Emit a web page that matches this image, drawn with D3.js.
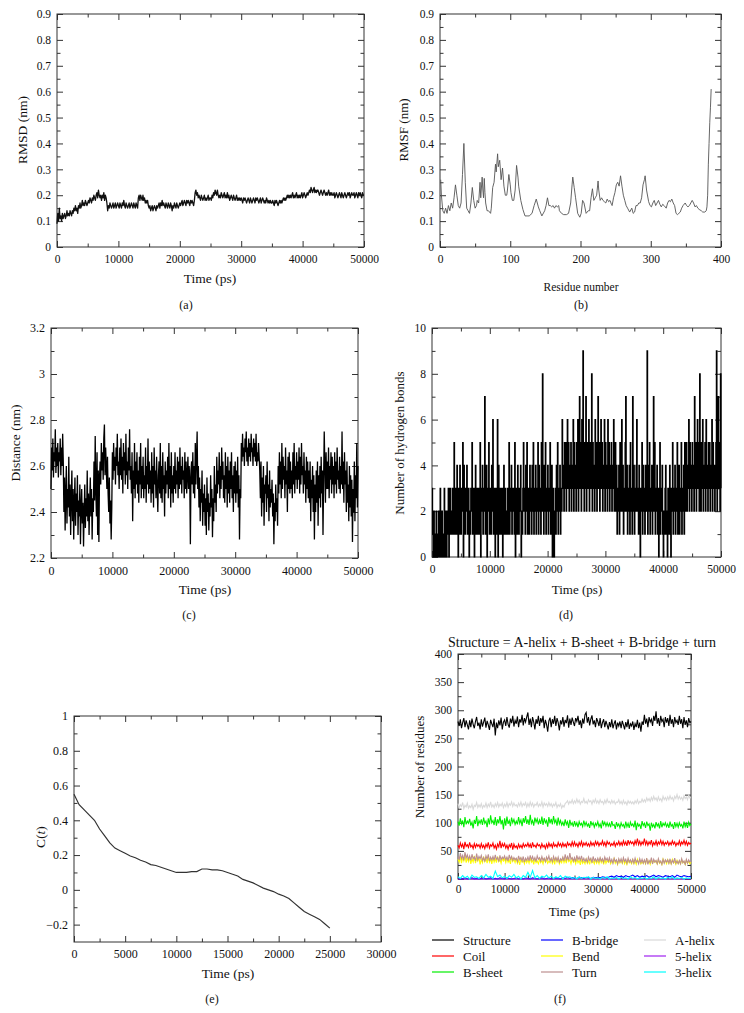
<!DOCTYPE html>
<html><head><meta charset="utf-8">
<script src="https://cdn.jsdelivr.net/npm/d3@7"></script>
<style>body{margin:0;background:#fff}</style>
</head><body><svg id="c" width="744" height="1013"></svg>
<script>
// ---------------- DATA ----------------
// (a) RMSD, sampled every 125 ps from 0 to 50000
const rmsdStep = 125;
const rmsd = [
0.09,0.13,0.10,0.15,0.11,0.12,0.10,0.13,0.11,0.12,0.13,0.11,0.12,0.14,0.12,0.13,0.12,0.14,0.13,0.12,
0.14,0.13,0.15,0.14,0.16,0.14,0.15,0.13,0.16,0.15,0.17,0.15,0.16,0.18,0.16,0.17,0.16,0.18,0.17,0.16,
0.17,0.18,0.17,0.19,0.18,0.17,0.19,0.18,0.20,0.19,0.18,0.20,0.21,0.19,0.22,0.20,0.19,0.20,0.18,0.20,
0.19,0.21,0.18,0.20,0.19,0.17,0.14,0.16,0.15,0.17,0.16,0.15,0.16,0.17,0.15,0.16,0.17,0.15,0.16,0.17,
0.16,0.15,0.17,0.16,0.15,0.17,0.16,0.18,0.16,0.15,0.17,0.16,0.15,0.16,0.17,0.15,0.16,0.17,0.16,0.15,
0.17,0.16,0.15,0.17,0.16,0.15,0.19,0.20,0.18,0.20,0.19,0.18,0.20,0.18,0.19,0.17,0.18,0.17,0.18,0.16,
0.15,0.16,0.14,0.15,0.16,0.14,0.15,0.16,0.15,0.14,0.16,0.15,0.16,0.17,0.15,0.17,0.16,0.18,0.16,0.17,
0.16,0.15,0.17,0.16,0.15,0.17,0.16,0.15,0.17,0.16,0.14,0.16,0.15,0.17,0.16,0.15,0.17,0.16,0.15,0.16,
0.17,0.16,0.17,0.18,0.16,0.17,0.18,0.17,0.16,0.18,0.17,0.18,0.17,0.16,0.18,0.17,0.18,0.17,0.16,0.18,
0.21,0.22,0.20,0.21,0.19,0.20,0.19,0.18,0.20,0.19,0.18,0.19,0.20,0.18,0.19,0.18,0.19,0.20,0.18,0.19,
0.19,0.18,0.20,0.19,0.21,0.20,0.22,0.21,0.20,0.22,0.20,0.19,0.20,0.19,0.21,0.20,0.19,0.20,0.21,0.19,
0.20,0.19,0.21,0.19,0.20,0.18,0.19,0.20,0.19,0.18,0.20,0.19,0.18,0.19,0.20,0.18,0.19,0.18,0.19,0.18,
0.19,0.18,0.17,0.19,0.18,0.19,0.18,0.17,0.18,0.19,0.18,0.17,0.19,0.18,0.17,0.18,0.19,0.18,0.17,0.19,
0.18,0.19,0.18,0.17,0.18,0.19,0.17,0.18,0.19,0.18,0.17,0.18,0.17,0.19,0.18,0.17,0.18,0.17,0.18,0.17,
0.17,0.18,0.17,0.16,0.18,0.17,0.18,0.17,0.16,0.17,0.18,0.17,0.18,0.17,0.18,0.19,0.18,0.19,0.18,0.19,
0.20,0.19,0.20,0.19,0.20,0.19,0.20,0.21,0.19,0.20,0.19,0.20,0.21,0.19,0.20,0.19,0.20,0.19,0.20,0.21,
0.19,0.20,0.21,0.20,0.19,0.20,0.21,0.20,0.21,0.22,0.21,0.23,0.22,0.21,0.22,0.23,0.21,0.22,0.21,0.22,
0.22,0.21,0.20,0.21,0.22,0.21,0.20,0.21,0.22,0.21,0.20,0.21,0.20,0.21,0.22,0.20,0.21,0.20,0.21,0.20,
0.20,0.21,0.19,0.20,0.21,0.20,0.19,0.20,0.21,0.20,0.19,0.21,0.20,0.19,0.20,0.21,0.20,0.19,0.20,0.21,
0.20,0.21,0.19,0.20,0.21,0.20,0.20,0.21,0.19,0.20,0.21,0.20,0.19,0.21,0.20,0.21,0.20,0.19,0.21,0.20,
0.20];

// (b) RMSF per residue
const rmsfResidue = [1,2,3,4,6,8,10,12,14,16,18,20,22,24,26,28,30,32,34,36,38,40,42,44,46,48,50,52,53,55,57,58,60,61,62,63,64,65,67,69,72,73,75,77,79,80,82,83,85,87,89,91,93,95,96,98,100,101,103,105,107,109,111,112,115,118,121,124,127,131,134,137,140,142,145,149,151,153,155,157,159,161,163,165,167,169,170,173,176,180,183,186,188,189,191,193,196,199,201,203,205,208,211,213,215,217,219,221,223,225,226,228,230,232,234,236,238,240,242,244,245,247,249,251,253,255,257,259,261,263,265,267,270,273,275,277,279,281,283,285,287,289,291,292,294,297,299,301,303,305,307,309,311,313,315,317,319,322,324,326,328,330,332,334,336,338,340,342,344,346,349,351,353,355,357,359,361,363,365,367,369,372,374,377,379,380,381,382,383,384,385,386];
const rmsfValue = [0.26,0.20,0.17,0.14,0.13,0.15,0.13,0.16,0.14,0.17,0.15,0.19,0.24,0.20,0.16,0.15,0.17,0.28,0.40,0.25,0.15,0.14,0.13,0.17,0.23,0.18,0.15,0.16,0.18,0.17,0.25,0.19,0.27,0.22,0.19,0.265,0.21,0.17,0.14,0.14,0.13,0.15,0.23,0.25,0.32,0.29,0.36,0.31,0.335,0.26,0.305,0.235,0.20,0.20,0.22,0.28,0.24,0.21,0.18,0.18,0.22,0.315,0.27,0.235,0.18,0.145,0.12,0.12,0.12,0.13,0.16,0.185,0.155,0.14,0.12,0.14,0.16,0.19,0.16,0.16,0.155,0.16,0.15,0.16,0.155,0.16,0.14,0.13,0.125,0.125,0.13,0.17,0.24,0.27,0.23,0.19,0.13,0.115,0.13,0.18,0.17,0.13,0.14,0.14,0.19,0.225,0.18,0.19,0.20,0.255,0.22,0.18,0.19,0.18,0.175,0.17,0.185,0.175,0.18,0.165,0.16,0.19,0.21,0.24,0.25,0.235,0.275,0.235,0.20,0.18,0.16,0.15,0.135,0.15,0.13,0.135,0.16,0.16,0.17,0.17,0.19,0.24,0.26,0.275,0.22,0.175,0.16,0.155,0.17,0.18,0.16,0.17,0.18,0.165,0.155,0.165,0.16,0.15,0.17,0.18,0.175,0.185,0.17,0.16,0.13,0.125,0.13,0.135,0.15,0.16,0.17,0.16,0.155,0.16,0.17,0.18,0.17,0.155,0.16,0.15,0.145,0.14,0.135,0.135,0.14,0.155,0.20,0.32,0.40,0.48,0.54,0.61];

// (c) Distance, every 100 ps
const distStep = 100;
const distance = [
2.50,2.68,2.58,2.72,2.55,2.66,2.62,2.76,2.57,2.68,
2.60,2.70,2.55,2.66,2.62,2.72,2.56,2.68,2.60,2.74,
2.62,2.40,2.55,2.32,2.48,2.60,2.35,2.50,2.42,2.64,
2.38,2.52,2.30,2.46,2.58,2.36,2.50,2.28,2.44,2.55,
2.34,2.48,2.40,2.56,2.30,2.45,2.38,2.52,2.26,2.42,
2.50,2.35,2.44,2.25,2.40,2.52,2.33,2.46,2.38,2.58,
2.36,2.48,2.30,2.44,2.55,2.38,2.50,2.28,2.46,2.40,
2.62,2.45,2.73,2.50,2.38,2.66,2.30,2.58,2.27,2.55,
2.62,2.52,2.70,2.58,2.66,2.54,2.72,2.78,2.56,2.68,
2.60,2.50,2.64,2.48,2.40,2.55,2.35,2.45,2.28,2.42,
2.66,2.54,2.70,2.58,2.64,2.52,2.68,2.60,2.74,2.56,
2.62,2.50,2.68,2.56,2.72,2.54,2.64,2.48,2.70,2.58,
2.66,2.52,2.74,2.56,2.62,2.50,2.68,2.58,2.76,2.54,
2.60,2.48,2.66,2.36,2.58,2.50,2.70,2.46,2.62,2.52,
2.66,2.48,2.58,2.44,2.64,2.52,2.70,2.46,2.60,2.50,
2.64,2.46,2.56,2.50,2.68,2.44,2.60,2.52,2.72,2.48,
2.62,2.50,2.58,2.44,2.66,2.48,2.60,2.42,2.68,2.52,
2.58,2.46,2.64,2.50,2.40,2.56,2.62,2.48,2.70,2.46,
2.60,2.44,2.66,2.50,2.56,2.38,2.62,2.48,2.58,2.52,
2.64,2.46,2.70,2.50,2.60,2.42,2.66,2.48,2.56,2.44,
2.60,2.50,2.66,2.48,2.58,2.52,2.64,2.46,2.62,2.50,
2.68,2.52,2.60,2.48,2.64,2.54,2.58,2.46,2.66,2.50,
2.62,2.48,2.56,2.64,2.50,2.60,2.54,2.26,2.58,2.62,
2.52,2.66,2.48,2.60,2.46,2.70,2.52,2.64,2.75,2.50,
2.60,2.42,2.55,2.36,2.50,2.44,2.58,2.34,2.48,2.40,
2.52,2.34,2.46,2.30,2.55,2.40,2.48,2.32,2.44,2.38,
2.56,2.42,2.50,2.29,2.46,2.36,2.60,2.44,2.52,2.40,
2.64,2.48,2.58,2.52,2.66,2.46,2.60,2.50,2.68,2.54,
2.62,2.46,2.56,2.44,2.66,2.50,2.60,2.42,2.64,2.48,
2.58,2.44,2.62,2.50,2.66,2.46,2.56,2.40,2.60,2.48,
2.62,2.44,2.58,2.48,2.64,2.42,2.56,2.28,2.50,2.46,
2.70,2.62,2.74,2.64,2.68,2.60,2.72,2.66,2.75,2.62,
2.68,2.60,2.72,2.64,2.70,2.62,2.74,2.66,2.68,2.60,
2.72,2.64,2.70,2.62,2.74,2.60,2.66,2.62,2.70,2.64,
2.58,2.46,2.62,2.38,2.55,2.44,2.60,2.34,2.52,2.48,
2.56,2.40,2.62,2.46,2.52,2.36,2.58,2.42,2.50,2.44,
2.54,2.38,2.48,2.26,2.44,2.36,2.52,2.40,2.46,2.34,
2.60,2.48,2.66,2.52,2.62,2.46,2.70,2.50,2.64,2.54,
2.60,2.46,2.68,2.52,2.58,2.40,2.64,2.50,2.66,2.48,
2.62,2.50,2.58,2.46,2.66,2.52,2.70,2.48,2.60,2.54,
2.66,2.50,2.62,2.54,2.68,2.48,2.64,2.52,2.70,2.56,
2.60,2.48,2.66,2.52,2.58,2.44,2.64,2.50,2.62,2.46,
2.58,2.44,2.62,2.36,2.54,2.46,2.60,2.40,2.56,2.28,
2.52,2.40,2.58,2.44,2.62,2.34,2.56,2.46,2.60,2.42,
2.64,2.48,2.58,2.30,2.54,2.75,2.60,2.44,2.66,2.50,
2.62,2.50,2.68,2.46,2.60,2.54,2.66,2.48,2.64,2.52,
2.60,2.46,2.66,2.52,2.62,2.48,2.68,2.54,2.58,2.50,
2.64,2.48,2.60,2.52,2.75,2.50,2.62,2.44,2.66,2.52,
2.58,2.40,2.62,2.44,2.52,2.36,2.60,2.42,2.56,2.38,
2.54,2.27,2.50,2.40,2.62,2.36,2.56,2.46,2.70,2.42,
2.60];

// (d) Hydrogen bonds, every 100 ps
const hbStep = 100;
const hbonds = [
3,1,0,2,1,0,1,2,0,1, 0,2,1,0,3,1,0,2,1,0, 1,3,0,2,1,0,2,1,3,0, 1,3,2,1,2,3,1,2,5,1,
2,3,1,4,2,0,3,1,4,2, 1,3,2,5,0,4,2,1,3,2, 4,1,2,3,0,2,1,3,2,5, 1,2,3,0,2,4,1,3,2,1,
3,1,2,5,0,3,2,4,1,2, 3,7,1,2,4,0,3,2,5,1, 2,3,1,4,2,6,1,3,2,0, 3,1,2,6,0,4,2,1,3,2,
1,3,0,2,4,1,3,2,1,2, 3,1,2,5,1,3,2,4,1,2, 3,2,1,5,0,2,3,1,4,2, 1,3,2,4,0,2,1,3,5,2,
3,1,4,2,5,1,3,2,1,4, 2,3,1,4,2,5,1,3,2,4, 1,3,2,5,1,4,2,3,1,5, 2,8,3,1,4,2,5,1,3,2,
4,1,3,2,5,1,2,4,0,3, 1,0,2,3,1,4,2,5,1,3, 2,4,1,3,2,6,3,4,2,5, 3,5,2,4,6,3,5,2,4,3,
5,2,4,3,6,2,5,3,4,2, 5,3,6,2,4,7,3,5,2,6, 3,9,4,2,5,3,7,2,4,5, 3,6,2,5,4,3,8,2,5,3,
4,2,6,3,5,2,4,7,3,5, 2,4,6,3,5,2,4,3,6,2, 5,3,4,2,6,3,5,2,4,3, 5,2,4,3,6,2,3,5,2,4,
1,3,2,4,1,5,2,3,6,2, 4,1,3,2,5,7,2,4,1,3, 2,4,1,5,2,3,1,7,2,4, 1,3,2,4,6,2,3,1,4,2,
0,3,2,5,1,4,2,3,1,4, 2,3,9,1,4,2,5,1,3,2, 4,1,3,7,2,5,1,3,2,4, 1,3,0,2,5,1,3,2,4,1,
0,2,1,3,4,1,2,0,3,1, 2,4,1,0,3,2,5,1,3,2, 4,1,3,2,5,1,2,4,1,3, 2,5,1,3,2,4,1,5,2,3,
5,2,4,3,6,2,5,3,4,2, 5,3,4,2,7,3,5,2,4,6, 3,5,2,8,4,2,5,3,6,2, 4,3,5,2,6,3,4,2,5,3,
5,2,4,3,6,2,5,3,4,2, 3,5,9,2,4,7,3,5,2,8,
3];

// (e) C(t), every 500 ps from 0 to 25000
const ctStep = 500;
const ct = [0.55,0.49,0.46,0.43,0.40,0.35,0.31,0.27,0.24,0.225,0.21,0.195,0.185,0.17,0.16,0.145,0.14,0.13,0.12,0.11,0.10,0.10,0.10,0.105,0.105,0.12,0.12,0.115,0.115,0.11,0.10,0.09,0.08,0.06,0.05,0.04,0.025,0.01,0.0,-0.01,-0.025,-0.035,-0.05,-0.075,-0.10,-0.125,-0.14,-0.155,-0.17,-0.195,-0.22];

// (f) Secondary structure (main series every 250 ps, minor ones every 500 ps)
const ssNames = ["Structure","Coil","B-sheet","B-bridge","Bend","Turn","A-helix","5-helix","3-helix"];
const ssColors = ["#000000","#ff0000","#00ee00","#0000ff","#ffff00","#bc8f8f","#d9d9d9","#a020f0","#00ffff"];
const ssSteps = [250,250,250,500,250,250,250,500,500];
const ssStructure = [
280,272,284,268,278,286,270,282,274,266, 282,270,285,275,268,280,288,272,278,266,
284,271,279,287,269,281,274,265,283,276, 270,285,255,278,268,282,273,287,266,279,
283,272,288,275,269,285,277,290,271,282, 276,289,270,284,278,292,273,286,279,288,
296,274,285,270,288,279,266,284,276,290, 272,286,278,290,268,283,275,262,281,287,
270,284,276,290,272,286,278,264,282,275, 288,271,283,277,291,269,285,274,287,279,
272,286,280,290,274,282,268,285,276,292, 296,278,288,273,284,291,275,282,270,286,
280,272,286,268,278,284,270,281,274,266, 279,270,284,268,276,282,266,278,272,280,
268,281,274,266,279,270,284,267,276,272, 280,265,276,270,283,268,278,262,280,274,
292,276,285,270,288,279,284,272,290,281, 298,276,286,272,290,280,284,270,288,278,
286,272,292,276,284,270,288,278,282,274, 290,276,284,268,288,274,282,270,286,278,
280];
const ssCoil = [
60,55,64,57,62,53,66,58,61,56, 65,57,60,54,63,56,62,58,61,55,
63,56,60,54,62,57,65,55,61,58, 64,55,60,53,62,57,68,55,63,58,
63,55,60,53,61,57,64,52,62,56, 59,54,62,56,60,55,63,57,61,58,
64,57,62,55,65,58,60,56,63,59, 61,55,63,57,60,54,62,56,64,58,
62,56,64,58,61,57,65,59,63,57, 64,58,62,57,65,60,63,58,66,59,
66,59,63,57,65,60,67,58,64,60, 65,59,63,58,66,60,64,59,67,61,
66,59,64,61,68,60,65,58,67,62, 65,59,63,60,66,58,64,61,67,60,
65,60,68,61,66,59,69,62,67,63, 66,60,68,62,72,61,67,60,66,62,
72,61,67,60,66,62,69,59,65,61, 68,60,66,62,69,61,67,60,65,62,
67,60,65,61,68,62,66,59,64,61, 68,60,66,62,69,61,67,60,65,62,
64];
const ssSheet = [
102,95,108,98,104,92,110,97,103,99, 107,95,101,90,105,98,112,94,104,99,
106,96,109,99,103,92,108,97,113,100, 104,96,110,95,106,99,112,97,105,88,
108,95,111,98,104,94,109,100,106,97, 103,97,110,99,105,94,108,100,112,98,
106,96,114,99,104,95,109,101,107,97, 105,98,111,96,108,100,104,93,110,99,
107,97,112,100,105,95,109,98,104,96, 101,94,106,97,102,91,105,96,100,93,
103,95,100,92,102,96,99,93,104,95, 101,94,98,91,103,96,100,92,99,95,
102,93,98,90,104,96,101,94,100,94, 99,92,103,95,97,89,101,94,98,91,
100,94,97,90,102,93,99,91,101,95, 98,92,104,87,100,94,97,89,103,95,
99,91,102,95,98,86,100,93,97,90, 101,94,98,90,103,92,99,95,100,93,
98,91,102,94,97,89,101,93,99,92, 100,94,97,90,102,93,99,91,101,95,
98];
const ssBridge = [2,0,1,2,0,1,2,0,1,0,1,2,0,1,2,0,1,0,2,1,0,2,1,0,1,2,0,1,0,2,1,0,2,1,0,1,2,0,1,2,0,1,2,1,0,2,1,3,1,2,2,1,3,2,1,3,2,1,3,2,3,2,4,3,2,4,5,3,6,4,5,3,6,4,5,7,4,6,3,5,4,6,3,5,7,4,6,5,3,6,5,4,6,3,7,5,4,6,5,4,5];
const ssBend = [
36,30,40,28,38,32,42,29,37,31, 39,27,36,30,41,28,37,32,38,26,
35,29,40,31,37,28,39,30,36,27, 38,30,36,29,40,31,35,28,37,32,
36,29,38,30,34,27,39,31,35,29, 37,28,34,25,36,30,33,27,35,29,
34,28,37,30,33,26,36,29,32,27, 35,29,33,27,37,30,34,28,32,29,
36,28,34,26,38,30,35,27,33,29, 37,29,35,28,39,31,34,27,36,30,
34,27,36,29,33,25,35,28,32,27, 35,28,33,26,36,29,32,27,34,28,
33,27,36,29,34,26,35,28,33,30, 34,27,32,29,36,28,33,26,34,29,
33,28,35,27,32,26,34,29,31,27, 34,28,32,26,35,29,33,27,31,28,
33,27,35,29,32,26,34,28,33,30, 32,27,34,28,31,26,35,29,33,27,
34,28,32,27,35,29,31,26,33,28, 32,27,34,29,31,26,33,28,32,27,
30];
const ssTurn = [
40,34,46,36,42,33,48,37,43,35, 41,33,44,36,39,32,45,34,40,36,
42,33,38,31,41,35,44,32,39,34, 40,33,43,35,38,31,42,34,39,36,
41,34,39,32,43,35,40,33,38,34, 37,31,41,34,38,32,40,30,37,33,
39,32,42,34,40,33,38,31,41,35, 38,32,40,33,37,31,39,34,41,32,
37,31,40,33,38,32,39,30,36,33, 39,32,44,34,40,33,46,35,38,32,
38,31,42,34,39,33,41,32,37,31, 36,30,39,33,37,29,40,32,36,31,
37,31,38,32,36,30,39,33,37,31, 38,30,35,28,37,31,34,27,36,30,
36,29,38,31,35,28,37,30,34,29, 35,28,37,30,33,27,36,29,35,28,
34,28,37,26,33,29,38,27,35,30, 33,27,36,29,32,26,35,28,34,30,
34,28,36,27,33,29,37,28,32,27, 33,27,36,29,32,26,35,28,34,30,
32];
const ssAHelix = [
134,127,132,129,136,125,131,128,135,126, 130,127,133,124,131,129,136,127,132,128,
134,126,131,128,135,127,133,129,137,128, 132,127,134,129,136,128,133,130,135,127,
133,129,136,128,134,131,137,129,135,130, 132,128,135,130,137,129,134,131,136,128,
134,129,137,130,135,128,133,131,136,129, 133,130,137,128,135,131,134,129,136,130,
134,128,133,130,136,127,132,129,134,126, 131,128,134,136,139,133,138,135,141,134,
139,135,142,136,140,133,138,136,143,135, 138,134,141,137,139,133,140,136,142,135,
139,134,141,136,138,133,140,135,142,136, 138,134,140,135,139,133,137,136,141,134,
138,133,140,134,137,132,139,135,138,134, 137,133,139,135,141,134,138,136,142,137,
141,137,144,139,143,138,145,140,147,141, 144,139,146,140,143,138,147,141,145,140,
146,141,148,142,145,139,147,143,150,142, 147,142,145,140,148,143,146,141,149,144,
145];
const ss5Helix = [0,0,0,0,0,0,0,0,0,0,0,0,0,0,0,0,0,0,0,0,0,0,0,0,0,0,0,0,0,0,0,0,0,0,0,0,0,0,0,0,0,0,0,0,0,0,0,0,0,0,0,0,0,0,0,0,0,0,0,0,0,0,0,0,0,0,0,0,0,0,0,0,0,0,0,0,0,0,0,0,0,0,0,0,0,0,0,0,0,0,0,0,0,0,0,0,0,0,0,0,0];
const ss3Helix = [4,1,6,2,5,0,7,3,4,1,6,2,8,3,5,1,14,4,7,2,5,1,6,3,8,2,5,0,6,3,12,3,15,2,6,1,5,3,7,2,5,1,4,2,6,0,5,3,4,1,3,0,4,1,3,2,4,0,3,1,2,0,3,1,4,0,2,1,3,0,3,1,2,0,4,1,3,0,2,1,3,0,2,1,4,0,3,1,2,0,3,1,4,0,2,1,3,0,2,1,2];
const ssSeries = [ssStructure,ssCoil,ssSheet,ssBridge,ssBend,ssTurn,ssAHelix,ss5Helix,ss3Helix];

// tick values / labels
const timeTicks50k = [0,10000,20000,30000,40000,50000];
const timeMinor50k = [5000,15000,25000,35000,45000];
const rmsTicks = [0,0.1,0.2,0.3,0.4,0.5,0.6,0.7,0.8,0.9];
const rmsMinor = [0.05,0.15,0.25,0.35,0.45,0.55,0.65,0.75,0.85];
const resTicks = [0,100,200,300,400];
const resMinor = [50,150,250,350];
const distTicks = [2.2,2.4,2.6,2.8,3,3.2];
const distMinor = [2.3,2.5,2.7,2.9,3.1];
const hbTicks = [0,2,4,6,8,10];
const hbMinor = [1,3,5,7,9];
const ctXTicks = [0,5000,10000,15000,20000,25000,30000];
const ctXMinor = [2500,7500,12500,17500,22500,27500];
const ctYTicks = [-0.2,0,0.2,0.4,0.6,0.8,1];
const ctYLabels = ["\u22120.2","0","0.2","0.4","0.6","0.8","1"];
const ctYMinor = [-0.1,0.1,0.3,0.5,0.7,0.9];
const resiTicks = [0,50,100,150,200,250,300,350,400];
const resiMinor = [25,75,125,175,225,275,325,375];

// ---------------- DRAW ----------------
const svg = d3.select('#c');
svg.append('rect').attr('width',744).attr('height',1013).attr('fill','#fff');
const SERIF = '"Liberation Serif","Times New Roman",Times,serif';
const MAJ = 6, MIN = 3.5;

function panel(o){
  const x = d3.scaleLinear().domain(o.xDomain).range([o.left,o.right]);
  const y = d3.scaleLinear().domain(o.yDomain).range([o.bottom,o.top]);
  const g = svg.append('g');
  const none = () => '';
  const fmtX = o.xLabels ? (d,i)=>o.xLabels[i] : d=>String(d);
  const fmtY = o.yLabels ? (d,i)=>o.yLabels[i] : d=>String(d);
  const axes = [
    [d3.axisBottom(x).tickValues(o.xMajor).tickSize(-MAJ).tickPadding(o.xPad).tickFormat(fmtX), `translate(0,${o.bottom})`],
    [d3.axisBottom(x).tickValues(o.xMinor).tickSize(-MIN).tickFormat(none), `translate(0,${o.bottom})`],
    [d3.axisTop(x).tickValues(o.xMajor).tickSize(-MAJ).tickFormat(none), `translate(0,${o.top})`],
    [d3.axisTop(x).tickValues(o.xMinor).tickSize(-MIN).tickFormat(none), `translate(0,${o.top})`],
    [d3.axisLeft(y).tickValues(o.yMajor).tickSize(-MAJ).tickPadding(o.yPad).tickFormat(fmtY), `translate(${o.left},0)`],
    [d3.axisLeft(y).tickValues(o.yMinor).tickSize(-MIN).tickFormat(none), `translate(${o.left},0)`],
    [d3.axisRight(y).tickValues(o.yMajor).tickSize(-MAJ).tickFormat(none), `translate(${o.right},0)`],
    [d3.axisRight(y).tickValues(o.yMinor).tickSize(-MIN).tickFormat(none), `translate(${o.right},0)`]
  ];
  axes.forEach(([ax,tr])=>{
    const a = g.append('g').attr('transform',tr).call(ax);
    a.select('.domain').remove();
    a.selectAll('line').attr('stroke','#333').attr('stroke-width',1);
    a.selectAll('text').attr('font-family',SERIF).attr('font-size',o.tickFont).attr('fill','#111');
  });
  g.append('rect').attr('x',o.left).attr('y',o.top)
    .attr('width',o.right-o.left).attr('height',o.bottom-o.top)
    .attr('fill','none').attr('stroke','#333').attr('stroke-width',1);
  g.append('text').attr('x',o.xTitle[1]).attr('y',o.xTitle[2])
    .attr('text-anchor','middle').attr('dominant-baseline','central')
    .attr('font-family',SERIF).attr('font-size',o.xTitleFont||o.titleFont).attr('fill','#111').text(o.xTitle[0]);
  const yt = g.append('text').attr('transform',`translate(${o.yTitle[1]},${o.yTitle[2]}) rotate(-90)`)
    .attr('text-anchor','middle').attr('dominant-baseline','central')
    .attr('font-family',SERIF).attr('font-size',o.titleFont).attr('fill','#111');
  if (o.yTitleItalic){
    yt.append('tspan').text('C(');
    yt.append('tspan').attr('font-style','italic').text('t');
    yt.append('tspan').text(')');
  } else yt.text(o.yTitle[0]);
  g.append('text').attr('x',o.caption[1]).attr('y',o.caption[2])
    .attr('text-anchor','middle').attr('dominant-baseline','central')
    .attr('font-family',SERIF).attr('font-size',12).attr('fill','#111').text(o.caption[0]);
  return {x,y,g};
}

// (a)
{
  const p = panel({left:57,right:364,top:14,bottom:247,xDomain:[0,50000],yDomain:[0,0.9],
    xMajor:timeTicks50k,xMinor:timeMinor50k,yMajor:rmsTicks,yMinor:rmsMinor,xPad:8,yPad:6,
    tickFont:11.5,titleFont:13.5,xTitle:["Time (ps)",210,278],yTitle:["RMSD (nm)",22,130],caption:["(a)",186,305]});
  p.g.append('path').datum(rmsd).attr('fill','none').attr('stroke','#111').attr('stroke-width',1.3)
    .attr('stroke-linejoin','round')
    .attr('d',d3.line().x((d,i)=>p.x(i*rmsdStep)).y(d=>p.y(d)));
}
// (b)
{
  const p = panel({left:440,right:721,top:14,bottom:247,xDomain:[0,400],yDomain:[0,0.9],
    xMajor:resTicks,xMinor:resMinor,yMajor:rmsTicks,yMinor:rmsMinor,xPad:8,yPad:6,
    tickFont:11.5,titleFont:13,xTitleFont:11.5,xTitle:["Residue number",581,287],yTitle:["RMSF (nm)",403,130],caption:["(b)",581,305]});
  p.g.append('path').datum(rmsfValue).attr('fill','none').attr('stroke','#555').attr('stroke-width',0.9)
    .attr('d',d3.line().x((d,i)=>p.x(rmsfResidue[i])).y(d=>p.y(d)));
}
// (c)
{
  const p = panel({left:51,right:358,top:328,bottom:558,xDomain:[0,50000],yDomain:[2.2,3.2],
    xMajor:timeTicks50k,xMinor:timeMinor50k,yMajor:distTicks,yMinor:distMinor,xPad:8,yPad:6,
    tickFont:12,titleFont:13.5,xTitle:["Time (ps)",205,589],yTitle:["Distance (nm)",15,443],caption:["(c)",189,615]});
  p.g.append('path').datum(distance).attr('fill','none').attr('stroke','#000').attr('stroke-width',1.3)
    .attr('d',d3.line().x((d,i)=>p.x(i*distStep)).y(d=>p.y(d)));
}
// (d)
{
  const p = panel({left:432,right:721,top:328,bottom:557,xDomain:[0,50000],yDomain:[0,10],
    xMajor:timeTicks50k,xMinor:timeMinor50k,yMajor:hbTicks,yMinor:hbMinor,xPad:8,yPad:6,
    tickFont:11.5,titleFont:13,xTitle:["Time (ps)",577,589],yTitle:["Number of hydrogen bonds",399,443],caption:["(d)",566,615]});
  p.g.append('path').datum(hbonds).attr('fill','none').attr('stroke','#000').attr('stroke-width',1.2)
    .attr('d',d3.line().curve(d3.curveStepAfter).x((d,i)=>p.x(i*hbStep)).y(d=>p.y(d)));
}
// (e)
{
  const p = panel({left:74,right:381,top:716,bottom:942,xDomain:[0,30000],yDomain:[-0.3,1],
    xMajor:ctXTicks,xMinor:ctXMinor,yMajor:ctYTicks,yLabels:ctYLabels,yMinor:ctYMinor,xPad:7,yPad:6,
    tickFont:12,titleFont:13.5,xTitle:["Time (ps)",228,973],yTitle:["C(t)",40,837],yTitleItalic:true,caption:["(e)",212,999]});
  p.g.append('path').datum(ct).attr('fill','none').attr('stroke','#333').attr('stroke-width',1.2)
    .attr('d',d3.line().x((d,i)=>p.x(i*ctStep)).y(d=>p.y(d)));
}
// (f)
{
  const p = panel({left:458,right:691,top:654,bottom:879,xDomain:[0,50000],yDomain:[0,400],
    xMajor:timeTicks50k,xMinor:timeMinor50k,yMajor:resiTicks,yMinor:resiMinor,xPad:6,yPad:6,
    tickFont:11.5,titleFont:13,xTitle:["Time (ps)",574,911],yTitle:["Number of residues",419,767],caption:["(f)",560,999]});
  svg.append('text').attr('x',582).attr('y',642).attr('text-anchor','middle').attr('dominant-baseline','central')
    .attr('font-family',SERIF).attr('font-size',14).attr('fill','#111')
    .text('Structure = A-helix + B-sheet + B-bridge + turn');
  ssSeries.forEach((s,k)=>{
    const line = d3.line().x((d,i)=>p.x(i*ssSteps[k])).y(d=>p.y(d));
    p.g.append('path').datum(s).attr('fill','none').attr('stroke',ssColors[k]).attr('stroke-width',1.1).attr('d',line);
  });
  const lg = svg.append('g');
  const colX = [432,541,644], rowY = [940,956,972];
  ssNames.forEach((n,k)=>{
    const cx = colX[Math.floor(k/3)], cy = rowY[k%3];
    lg.append('line').attr('x1',cx).attr('x2',cx+22).attr('y1',cy).attr('y2',cy)
      .attr('stroke',ssColors[k]).attr('stroke-width',1.2);
    lg.append('text').attr('x',cx+31).attr('y',cy).attr('dominant-baseline','central')
      .attr('font-family',SERIF).attr('font-size',13).attr('fill','#111').text(n);
  });
}
</script>
</body></html>
